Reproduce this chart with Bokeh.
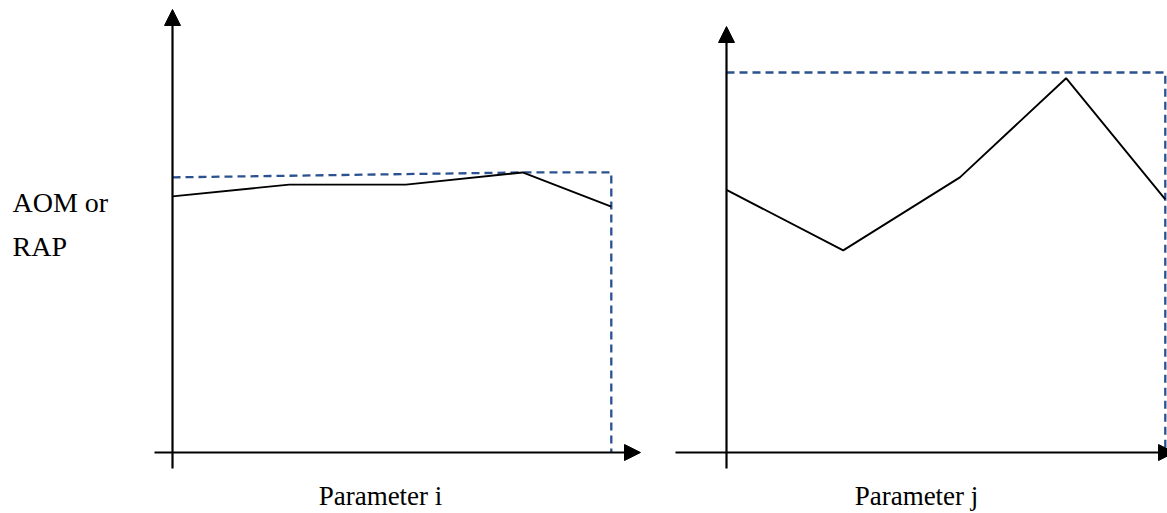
from bokeh.plotting import figure
from bokeh.models import Arrow, NormalHead, Label, Range1d
from bokeh.layouts import row
from bokeh.embed import file_html
from bokeh.resources import INLINE

# ---- data (x in step units, y in % of panel-j envelope) ----
# Panel "Parameter i"
xi_solid = [0, 1, 2, 3.0, 3.76]
yi_solid = [67.4, 70.5, 70.5, 73.7, 64.7]
xi_dash = [0, 3.0, 3.76, 3.76]
yi_dash = [72.4, 73.7, 73.7, 0]

# Panel "Parameter j"
xj_solid = [0, 1, 2, 2.91, 3.76]
yj_solid = [69.1, 53.2, 72.4, 98.5, 66.6]
xj_dash = [0, 3.76, 3.76]
yj_dash = [100, 100, 0]

# texts
y_label_lines = ["AOM or", "RAP"]
x_label_i = "Parameter i"
x_label_j = "Parameter j"

# ---- layout constants ----
H = 513
W1, W2 = 658, 509
XPX, YPX = 116.7, 3.8          # pixels per data unit
ORIGIN_FY = 452                # origin distance from figure top (px)
ORIGIN_FX1, ORIGIN_FX2 = 172, 68
TXT_SHIFT = 10                 # baseline correction for svg text

DASH_COLOR = "#2B5190"
FONT = "Liberation Serif"


def make_panel(width, origin_fx, y_tip, x_start, x_tip):
    p = figure(width=width, height=H, output_backend="svg", toolbar_location=None,
               x_axis_location=None, y_axis_location=None,
               x_range=Range1d(-origin_fx / XPX, (width - origin_fx) / XPX),
               y_range=Range1d(-(H - ORIGIN_FY) / YPX, ORIGIN_FY / YPX),
               min_border=0, min_border_left=0, min_border_right=0,
               min_border_top=0, min_border_bottom=0)
    p.outline_line_color = None
    p.xgrid.visible = False
    p.ygrid.visible = False
    p.background_fill_color = "white"
    p.border_fill_color = "white"
    # axes as arrows
    p.add_layout(Arrow(end=NormalHead(size=16, fill_color="black", line_color="black"),
                       x_start=0, y_start=-16 / YPX, x_end=0, y_end=y_tip,
                       line_width=2.2, line_color="black"))
    p.add_layout(Arrow(end=NormalHead(size=16, fill_color="black", line_color="black"),
                       x_start=x_start, y_start=0, x_end=x_tip, y_end=0,
                       line_width=2.2, line_color="black"))
    return p


p1 = make_panel(W1, ORIGIN_FX1, 443 / YPX, -18 / XPX, 468 / XPX)
p1.line(xi_dash, yi_dash, line_color=DASH_COLOR, line_width=2.3, line_dash="8 5")
p1.line(xi_solid, yi_solid, line_color="black", line_width=1.9)

p2 = make_panel(W2, ORIGIN_FX2, 426 / YPX, -51 / XPX, 448 / XPX)
p2.line(xj_dash, yj_dash, line_color=DASH_COLOR, line_width=2.3, line_dash="8 5")
p2.line(xj_solid, yj_solid, line_color="black", line_width=1.9)

# text labels
def add_text(p, x, baseline_from_top, text, size, align):
    p.add_layout(Label(x=x, y=H - baseline_from_top + TXT_SHIFT,
                       x_units="screen", y_units="screen",
                       text=text, text_font=FONT, text_font_size=size,
                       text_color="black", text_baseline="alphabetic",
                       text_align=align))

add_text(p1, 12, 212, y_label_lines[0], "28px", "left")
add_text(p1, 12, 256, y_label_lines[1], "28px", "left")
add_text(p1, 380, 505, x_label_i, "27px", "center")
add_text(p2, 258, 505, x_label_j, "27px", "center")

layout = row(p1, p2, spacing=0)
open("out.html", "w").write(file_html(layout, INLINE))
